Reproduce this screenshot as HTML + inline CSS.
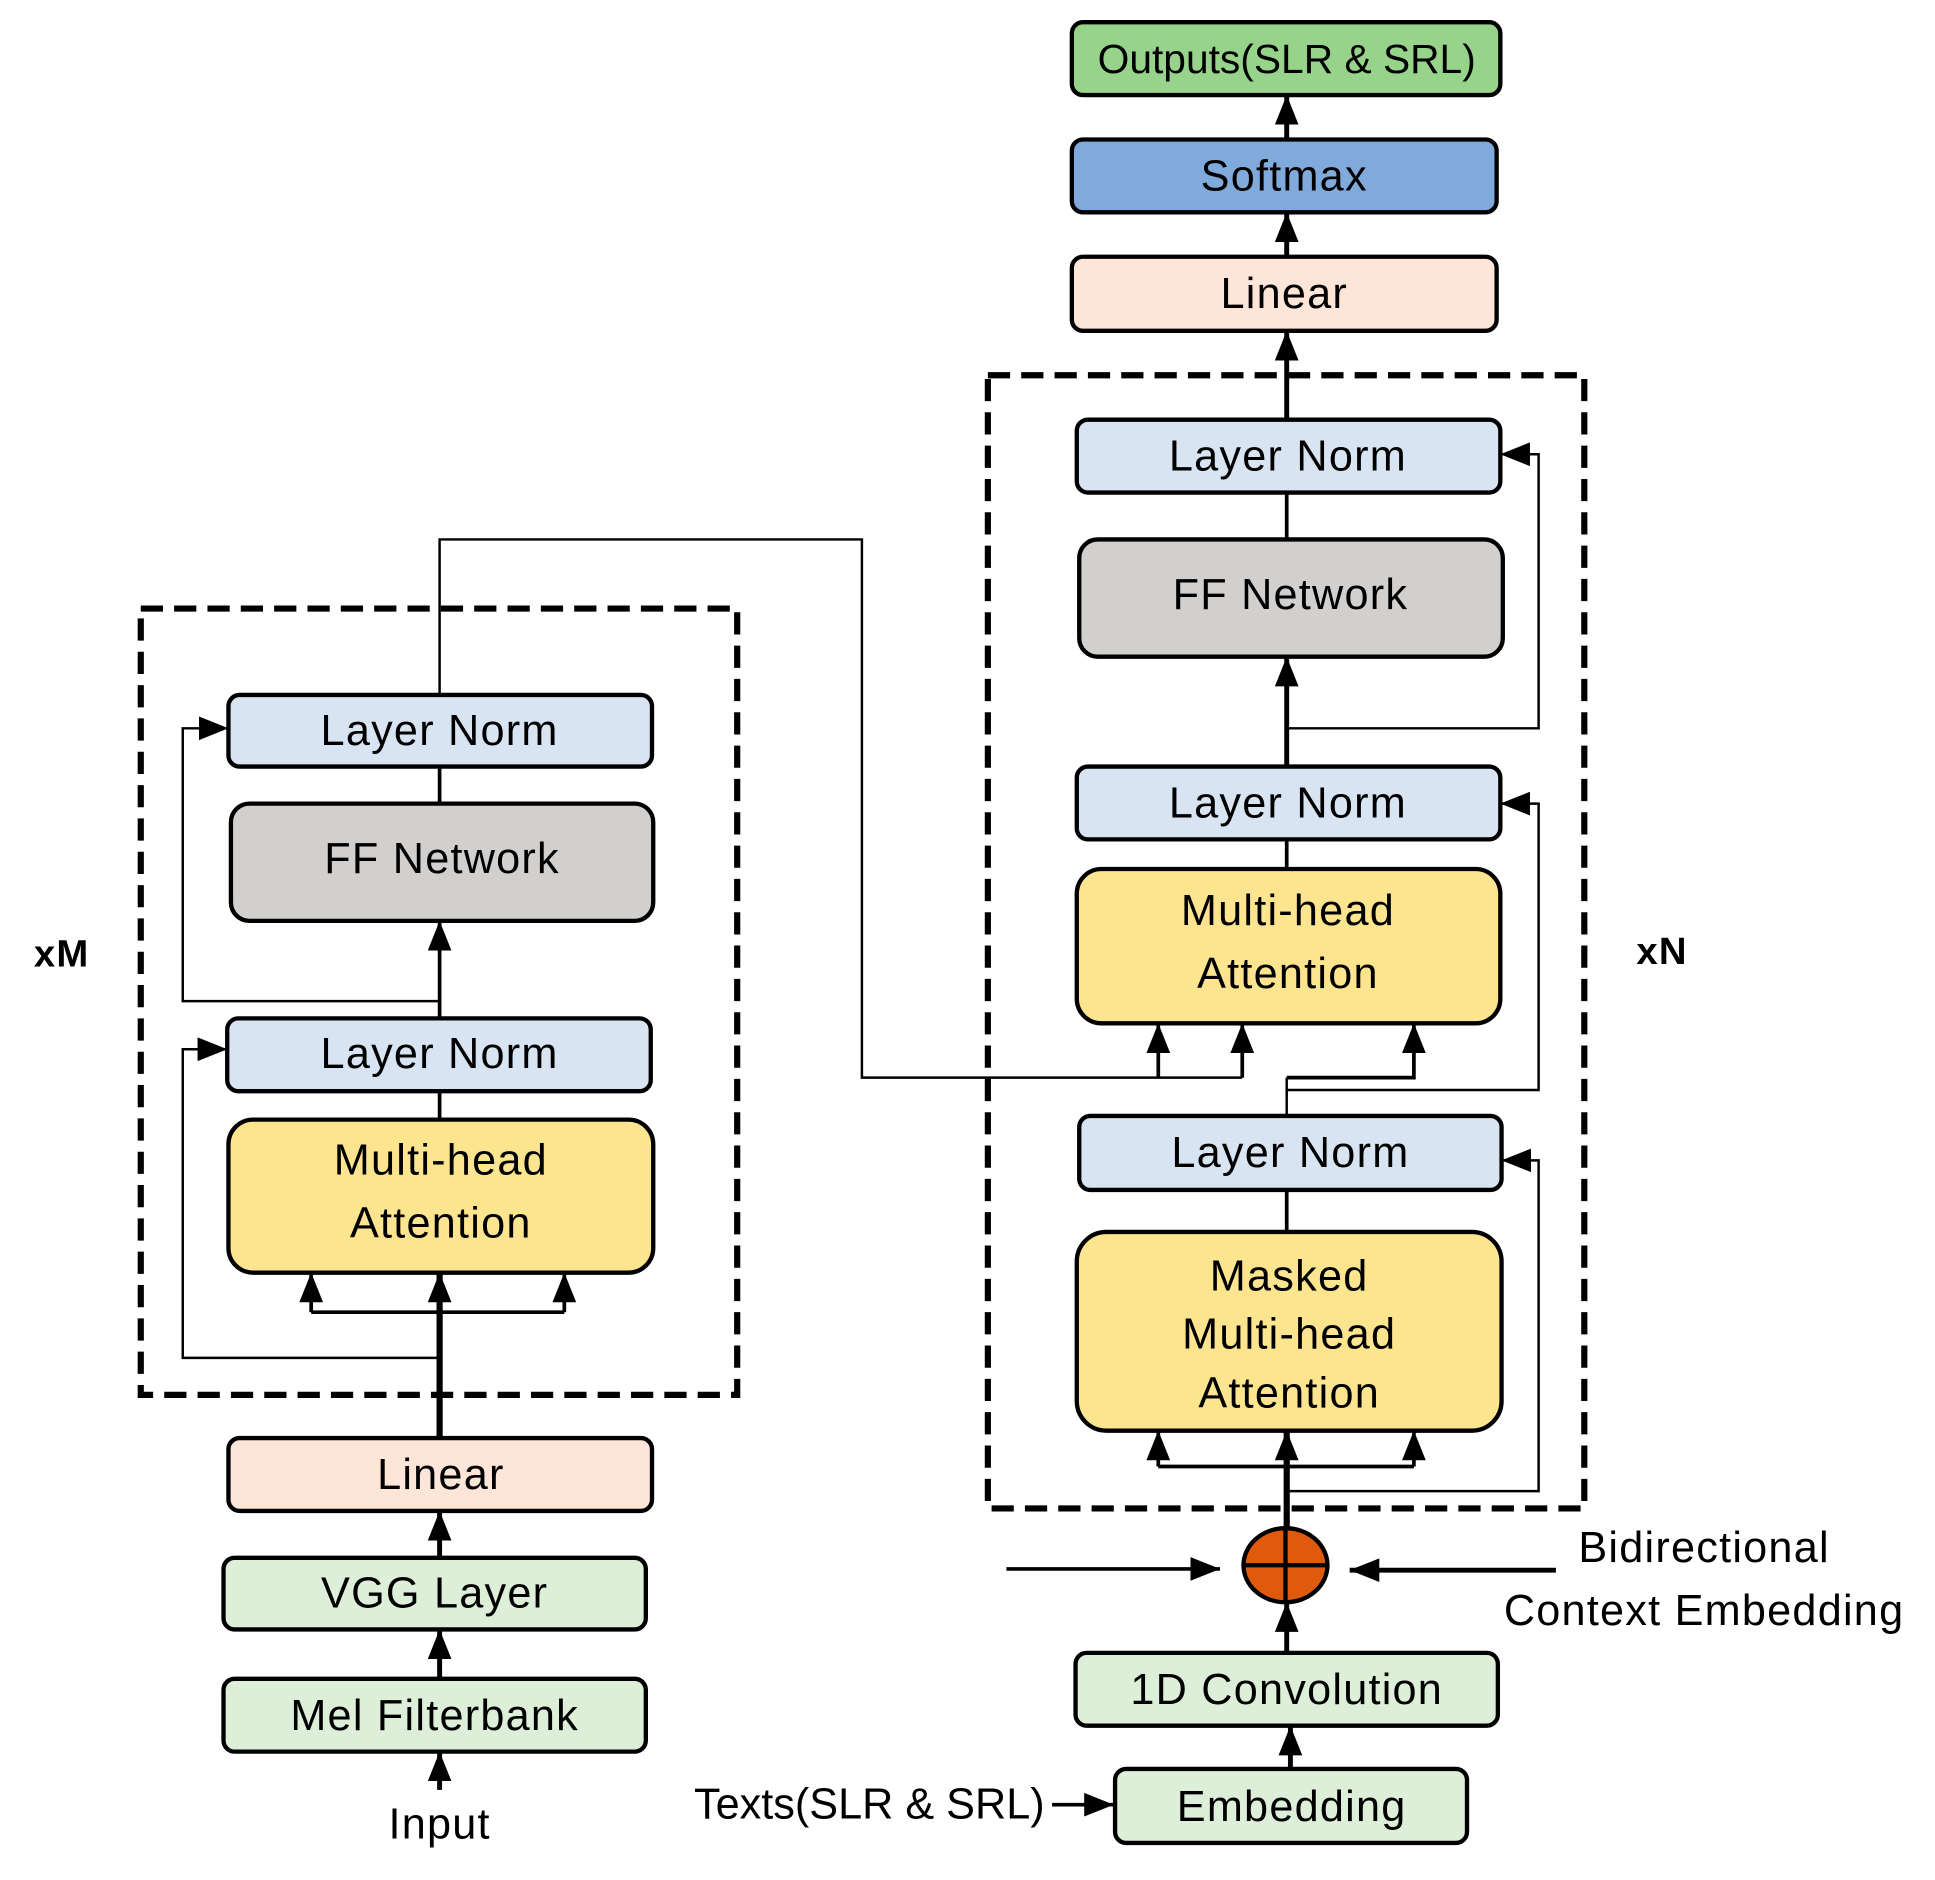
<!DOCTYPE html>
<html><head><meta charset="utf-8"><style>
html,body{margin:0;padding:0;background:#fff}
svg{display:block}
text{font-family:"Liberation Sans",sans-serif;font-size:35px;letter-spacing:1px;fill:#000;text-anchor:middle;dominant-baseline:central}
.b{stroke:#000;stroke-width:3.5}
</style></head><body>
<svg width="1935" height="1880" viewBox="0 0 1567 1523" preserveAspectRatio="none" xmlns="http://www.w3.org/2000/svg">
<defs>
<marker id="A" viewBox="0 0 10 10" refX="10" refY="5" markerWidth="24" markerHeight="24" markerUnits="userSpaceOnUse" orient="auto"><path d="M0,1L10,5L0,9z"/></marker>
</defs>
<g fill="none" stroke="#000">
<rect x="800" y="304" width="483" height="918" stroke-width="5" stroke-dasharray="18,9"/>
<rect x="114" y="493" width="483" height="637" stroke-width="5" stroke-dasharray="18,9"/>
<line x1="1042" y1="1238" x2="1042" y2="1159" stroke-width="5" marker-end="url(#A)"/>
<line x1="1042" y1="998" x2="1042" y2="964" stroke-width="3"/>
<line x1="1042" y1="904" x2="1042" y2="873" stroke-width="2"/>
<line x1="1042" y1="704" x2="1042" y2="680" stroke-width="3"/>
<line x1="1042" y1="621" x2="1042" y2="532" stroke-width="4" marker-end="url(#A)"/>
<line x1="1042" y1="437" x2="1042" y2="399" stroke-width="3"/>
<line x1="1042" y1="340" x2="1042" y2="268" stroke-width="4" marker-end="url(#A)"/>
<line x1="1042" y1="208" x2="1042" y2="172" stroke-width="4" marker-end="url(#A)"/>
<line x1="1042" y1="113" x2="1042" y2="77" stroke-width="4" marker-end="url(#A)"/>
<polyline points="938,1188 1145,1188" stroke-width="3"/>
<line x1="938" y1="1188" x2="938" y2="1159" stroke-width="3" marker-end="url(#A)"/>
<line x1="1145" y1="1188" x2="1145" y2="1159" stroke-width="3" marker-end="url(#A)"/>
<polyline points="1042,1208 1246,1208 1246,940 1216,940" stroke-width="2" marker-end="url(#A)"/>
<polyline points="1042,883 1246,883 1246,651 1215,651" stroke-width="2" marker-end="url(#A)"/>
<polyline points="1042,590 1246,590 1246,368 1215,368" stroke-width="2" marker-end="url(#A)"/>
<polyline points="1042,873 1145,873 1145,829" stroke-width="3" marker-end="url(#A)"/>
<polyline points="356,562 356,437 698,437 698,873 1006,873" stroke-width="2"/>
<line x1="938" y1="873" x2="938" y2="829" stroke-width="3" marker-end="url(#A)"/>
<line x1="1006" y1="873" x2="1006" y2="829" stroke-width="3" marker-end="url(#A)"/>
<line x1="1042" y1="1339" x2="1042" y2="1298" stroke-width="4" marker-end="url(#A)"/>
<line x1="1045" y1="1433" x2="1045" y2="1398" stroke-width="4" marker-end="url(#A)"/>
<line x1="852" y1="1462" x2="902" y2="1462" stroke-width="3" marker-end="url(#A)"/>
<line x1="815" y1="1271" x2="988" y2="1271" stroke-width="3" marker-end="url(#A)"/>
<line x1="1260" y1="1272" x2="1093" y2="1272" stroke-width="4" marker-end="url(#A)"/>
<line x1="356" y1="1165" x2="356" y2="1031" stroke-width="5" marker-end="url(#A)"/>
<polyline points="252,1063 457,1063" stroke-width="3"/>
<line x1="252" y1="1063" x2="252" y2="1031" stroke-width="3" marker-end="url(#A)"/>
<line x1="457" y1="1063" x2="457" y2="1031" stroke-width="3" marker-end="url(#A)"/>
<polyline points="356,1100 148,1100 148,850 184,850" stroke-width="2" marker-end="url(#A)"/>
<line x1="356" y1="907" x2="356" y2="884" stroke-width="3"/>
<line x1="356" y1="825" x2="356" y2="746" stroke-width="3" marker-end="url(#A)"/>
<polyline points="356,811 148,811 148,590 185,590" stroke-width="2" marker-end="url(#A)"/>
<line x1="356" y1="651" x2="356" y2="621" stroke-width="3"/>
<line x1="356" y1="1262" x2="356" y2="1224" stroke-width="4" marker-end="url(#A)"/>
<line x1="356" y1="1360" x2="356" y2="1320" stroke-width="4" marker-end="url(#A)"/>
<line x1="356" y1="1450" x2="356" y2="1419" stroke-width="4" marker-end="url(#A)"/>
</g>
<g class="b">
<rect x="868" y="18" width="347" height="59" rx="9" fill="#97d38a"/>
<rect x="868" y="113" width="344" height="59" rx="9" fill="#7faadb"/>
<rect x="868" y="208" width="344" height="60" rx="9" fill="#fde5d8"/>
<rect x="872" y="340" width="343" height="59" rx="9" fill="#d9e4f3"/>
<rect x="874" y="437" width="343" height="95" rx="15" fill="#d1d0ce"/>
<rect x="872" y="621" width="343" height="59" rx="9" fill="#d9e4f3"/>
<rect x="872" y="704" width="343" height="125" rx="20" fill="#fde590"/>
<rect x="874" y="904" width="342" height="60" rx="9" fill="#d9e4f3"/>
<rect x="872" y="998" width="344" height="161" rx="24" fill="#fde590"/>
<rect x="871" y="1339" width="342" height="59" rx="9" fill="#ddefd8"/>
<rect x="903" y="1433" width="285" height="60" rx="9" fill="#ddefd8"/>
<rect x="185" y="563" width="343" height="58" rx="9" fill="#d9e4f3"/>
<rect x="187" y="651" width="342" height="95" rx="15" fill="#d1d0ce"/>
<rect x="184" y="825" width="343" height="59" rx="9" fill="#d9e4f3"/>
<rect x="185" y="907" width="344" height="124" rx="20" fill="#fde590"/>
<rect x="185" y="1165" width="343" height="59" rx="9" fill="#fde5d8"/>
<rect x="181" y="1262" width="342" height="58" rx="9" fill="#ddefd8"/>
<rect x="181" y="1360" width="342" height="59" rx="9" fill="#ddefd8"/>
<ellipse cx="1041" cy="1268" rx="34" ry="30" fill="#e05a0c"/>
<line x1="1041" y1="1238" x2="1041" y2="1298"/>
<line x1="1007" y1="1268" x2="1075" y2="1268"/>
</g>
<text x="1042" y="48" style="font-size:33px;letter-spacing:0">Outputs(SLR &amp; SRL)</text>
<text x="1040" y="143">Softmax</text>
<text x="1040" y="238">Linear</text>
<text x="1043" y="370">Layer Norm</text>
<text x="1045" y="482">FF Network</text>
<text x="1043" y="651">Layer Norm</text>
<text x="1043" y="738">Multi-head</text>
<text x="1043" y="789">Attention</text>
<text x="1045" y="934">Layer Norm</text>
<text x="1044" y="1034">Masked</text>
<text x="1044" y="1081">Multi-head</text>
<text x="1044" y="1129">Attention</text>
<text x="1042" y="1369">1D Convolution</text>
<text x="1046" y="1464">Embedding</text>
<text x="704" y="1462" style="letter-spacing:0">Texts(SLR &amp; SRL)</text>
<text x="1380" y="1254">Bidirectional</text>
<text x="1380" y="1305">Context Embedding</text>
<text x="1346" y="771" style="font-weight:bold;font-size:31px">xN</text>
<text x="50" y="773" style="font-weight:bold;font-size:31px">xM</text>
<text x="356" y="592">Layer Norm</text>
<text x="358" y="696">FF Network</text>
<text x="356" y="854">Layer Norm</text>
<text x="357" y="940">Multi-head</text>
<text x="357" y="991">Attention</text>
<text x="357" y="1195">Linear</text>
<text x="352" y="1291">VGG Layer</text>
<text x="352" y="1390">Mel Filterbank</text>
<text x="356" y="1478">Input</text>
</svg>
</body></html>
